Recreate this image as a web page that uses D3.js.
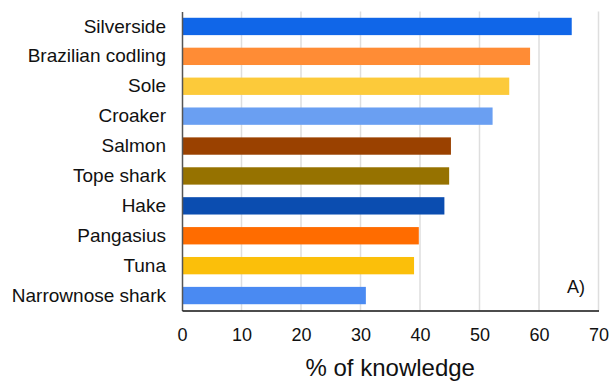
<!DOCTYPE html>
<html>
<head>
<meta charset="utf-8">
<script src="https://cdn.jsdelivr.net/npm/d3@7"></script>
<style>
  html, body { margin: 0; padding: 0; background: #fff; }
  svg { display: block; font-family: "Liberation Sans", Arial, sans-serif; }
</style>
</head>
<body>
<svg id="chart" width="611" height="385"></svg>
<script>
// Species, share of respondents who know each one (%), and bar colours
const species = ["Silverside", "Brazilian codling", "Sole", "Croaker", "Salmon",
                 "Tope shark", "Hake", "Pangasius", "Tuna", "Narrownose shark"];
const knowledge = [65.5, 58.5, 55.0, 52.2, 45.2, 44.9, 44.1, 39.8, 39.0, 30.9];
const barColors = ["#1066E8", "#FF8C35", "#FCCA3A", "#6A9FF2", "#9A4100",
                   "#967200", "#0B4DB0", "#FF6C00", "#FBBF0A", "#4A8AF2"];
const xTicks = [0, 10, 20, 30, 40, 50, 60, 70];
const axisTitle = "% of knowledge";
const panelLabel = "A)";

const svg = d3.select("#chart");
const margin = { top: 11.5, right: 12.5, bottom: 74.5, left: 182 };
const width = 611 - margin.left - margin.right;
const height = 385 - margin.top - margin.bottom;

const x = d3.scaleLinear().domain([0, 70]).range([0, width]);
const y = d3.scaleBand().domain(species).range([0, height]).paddingInner(0.42).paddingOuter(0.21);

const g = svg.append("g").attr("transform", `translate(${margin.left},${margin.top})`);

// vertical gridlines
g.append("g")
  .selectAll("line")
  .data(xTicks.filter(d => d > 0))
  .join("line")
  .attr("x1", d => x(d)).attr("x2", d => x(d))
  .attr("y1", 0).attr("y2", height)
  .attr("stroke", "#dedede")
  .attr("stroke-width", 1.5);

// bars
g.append("g")
  .selectAll("rect")
  .data(species)
  .join("rect")
  .attr("x", x(0))
  .attr("y", d => y(d))
  .attr("width", (d, i) => x(knowledge[i]) - x(0))
  .attr("height", y.bandwidth())
  .attr("fill", (d, i) => barColors[i]);

// category axis
const yAxis = g.append("g")
  .call(d3.axisLeft(y).tickSize(0).tickPadding(16));
yAxis.select(".domain").attr("stroke", "#555").attr("stroke-width", 1.5);
yAxis.selectAll("text")
  .attr("font-size", 19)
  .attr("fill", "#111")
  .attr("font-family", "Liberation Sans, Arial, sans-serif");

// value axis
const xAxis = g.append("g")
  .attr("transform", `translate(0,${height})`)
  .call(d3.axisBottom(x).tickValues(xTicks).tickSize(0).tickPadding(18).tickFormat(d3.format("d")));
xAxis.select(".domain").attr("stroke", "#111").attr("stroke-width", 1.5);
xAxis.selectAll("text")
  .attr("font-size", 18)
  .attr("fill", "#111")
  .attr("font-family", "Liberation Sans, Arial, sans-serif");

// axis title
svg.append("text")
  .attr("x", margin.left + width / 2)
  .attr("y", 376)
  .attr("text-anchor", "middle")
  .attr("font-size", 24)
  .attr("fill", "#111")
  .text(axisTitle);

// panel label
svg.append("text")
  .attr("x", 576)
  .attr("y", 293)
  .attr("text-anchor", "middle")
  .attr("font-size", 18)
  .attr("fill", "#111")
  .text(panelLabel);
</script>
</body>
</html>
